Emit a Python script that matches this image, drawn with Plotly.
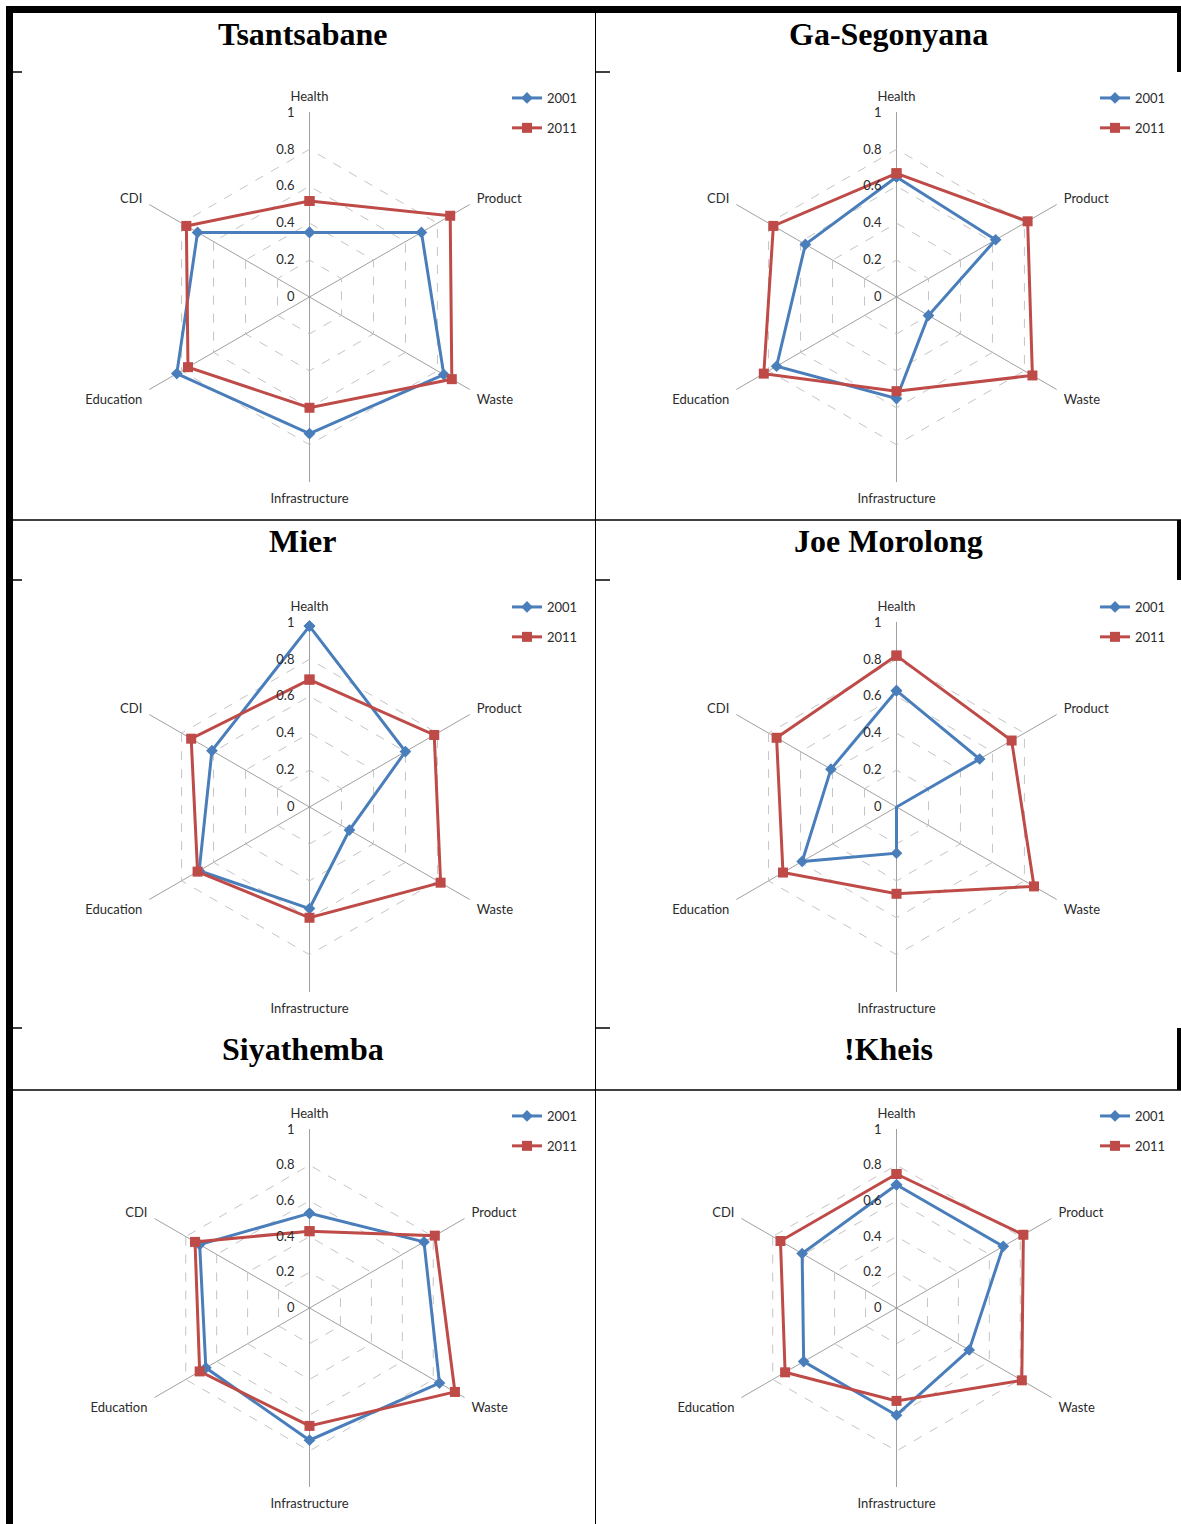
import plotly.graph_objects as go

# Axis categories shared by every radar
categories = ["Health", "Product", "Waste", "Infrastructure", "Education", "CDI"]

# Municipality names
municipalities = ["Tsantsabane", "Ga-Segonyana", "Mier", "Joe Morolong", "Siyathemba", "!Kheis"]

# Index values per municipality (order follows `categories`)
tsantsabane_2001 = [0.35, 0.70, 0.84, 0.74, 0.83, 0.70]
tsantsabane_2011 = [0.52, 0.88, 0.89, 0.60, 0.76, 0.77]

ga_segonyana_2001 = [0.65, 0.62, 0.20, 0.55, 0.75, 0.57]
ga_segonyana_2011 = [0.67, 0.82, 0.85, 0.51, 0.83, 0.77]

mier_2001 = [0.98, 0.60, 0.25, 0.55, 0.69, 0.61]
mier_2011 = [0.69, 0.78, 0.82, 0.60, 0.70, 0.74]

joe_morolong_2001 = [0.63, 0.52, 0.00, 0.25, 0.59, 0.41]
joe_morolong_2011 = [0.82, 0.72, 0.86, 0.47, 0.71, 0.75]

siyathemba_2001 = [0.53, 0.74, 0.84, 0.74, 0.67, 0.71]
siyathemba_2011 = [0.43, 0.81, 0.94, 0.66, 0.71, 0.74]

kheis_2001 = [0.69, 0.69, 0.47, 0.60, 0.60, 0.61]
kheis_2011 = [0.75, 0.82, 0.81, 0.52, 0.72, 0.75]

series_2001 = [tsantsabane_2001, ga_segonyana_2001, mier_2001,
               joe_morolong_2001, siyathemba_2001, kheis_2001]
series_2011 = [tsantsabane_2011, ga_segonyana_2011, mier_2011,
               joe_morolong_2011, siyathemba_2011, kheis_2011]

years = ["2001", "2011"]
radial_ticks = [0, 0.2, 0.4, 0.6, 0.8, 1]

W, H = 1181, 1524
BLUE = "#4a7ebb"
RED = "#be4b48"
LABEL_FONT = dict(family="Lato, Open Sans, sans-serif", size=13, color="#2b2b2b")


def fx(x):
    return x / W


def fy(y):
    return 1 - y / H


col_cx = [309.5, 896.5]
row_cy = [297, 807, 1308]
row_r = [185, 185, 179]
title_cx = [303, 888]
title_cy = [34, 541, 1049]
legend_x = [507, 1095]
legend_top = [83, 592, 1101]

fig = go.Figure()

for i, name in enumerate(municipalities):
    r_i, c_i = divmod(i, 2)
    polar_id = "polar" if i == 0 else f"polar{i + 1}"
    legend_id = "legend" if i == 0 else f"legend{i + 1}"
    cx, cy, R = col_cx[c_i], row_cy[r_i], row_r[r_i]

    for year, vals, color, symbol in [
        (years[0], series_2001[i], BLUE, "diamond"),
        (years[1], series_2011[i], RED, "square"),
    ]:
        fig.add_trace(go.Scatterpolar(
            r=vals + vals[:1],
            theta=categories + categories[:1],
            mode="lines+markers",
            name=year,
            line=dict(color=color, width=3),
            marker=dict(symbol=symbol, size=9 if symbol == "diamond" else 10, color=color),
            subplot=polar_id,
            legend=legend_id,
            legendgroup=f"{name}-{year}",
            showlegend=True,
        ))

    fig.update_layout(**{
        polar_id: dict(
            domain=dict(x=[fx(cx - R), fx(cx + R)], y=[fy(cy + R), fy(cy - R)]),
            bgcolor="white",
            gridshape="linear",
            radialaxis=dict(
                range=[0, 1.002],
                tickvals=radial_ticks,
                ticktext=[f"{v:g}" for v in radial_ticks],
                angle=90,
                tickangle=90,
                side="counterclockwise",
                showline=False,
                ticks="outside",
                ticklen=10,
                tickcolor="rgba(0,0,0,0)",
                gridcolor="#c4c4c4",
                griddash="dash",
                gridwidth=1,
                tickfont=LABEL_FONT,
            ),
            angularaxis=dict(
                categoryorder="array",
                categoryarray=categories,
                direction="clockwise",
                rotation=90,
                showline=False,
                ticks="outside",
                ticklen=5,
                tickcolor="rgba(0,0,0,0)",
                gridcolor="#a0a0a0",
                gridwidth=1,
                tickfont=LABEL_FONT,
            ),
        ),
        legend_id: dict(
            x=fx(legend_x[c_i]), y=fy(legend_top[r_i]),
            xanchor="left", yanchor="top",
            bgcolor="rgba(0,0,0,0)",
            font=LABEL_FONT,
            traceorder="grouped",
            tracegroupgap=10,
            itemwidth=30,
        ),
    })

    fig.add_annotation(
        x=fx(title_cx[c_i]), y=fy(title_cy[r_i]),
        xref="paper", yref="paper",
        text=f"<b>{name}</b>",
        showarrow=False,
        font=dict(family="Liberation Serif, Times New Roman, serif", size=32, color="black"),
        xanchor="center", yanchor="middle",
    )

# Table rules around the panels
shapes = []


def rect(x0, y0, x1, y1):
    shapes.append(dict(type="rect", xref="paper", yref="paper",
                       x0=fx(x0), x1=fx(x1), y0=fy(y1), y1=fy(y0),
                       fillcolor="black", line=dict(width=0)))


rect(6, 6, W, 13)          # top thick rule
rect(6, 6, 13, H)          # left thick rule
rect(595, 13, 596, H)      # middle divider
for y0, y1 in [(13, 72), (520, 580), (1028, 1090)]:
    rect(1177, y0, W, y1)  # right rule on title rows
for y in [520, 1090]:
    rect(13, y - 0.75, W, y + 0.75)
for y in [72, 580, 1028]:
    rect(13, y - 0.75, 22, y + 0.75)
    rect(596, y - 0.75, 610, y + 0.75)

fig.update_layout(
    width=W, height=H,
    margin=dict(l=0, r=0, t=0, b=0),
    paper_bgcolor="white",
    plot_bgcolor="white",
    shapes=shapes,
)

fig.write_html("out.html")
